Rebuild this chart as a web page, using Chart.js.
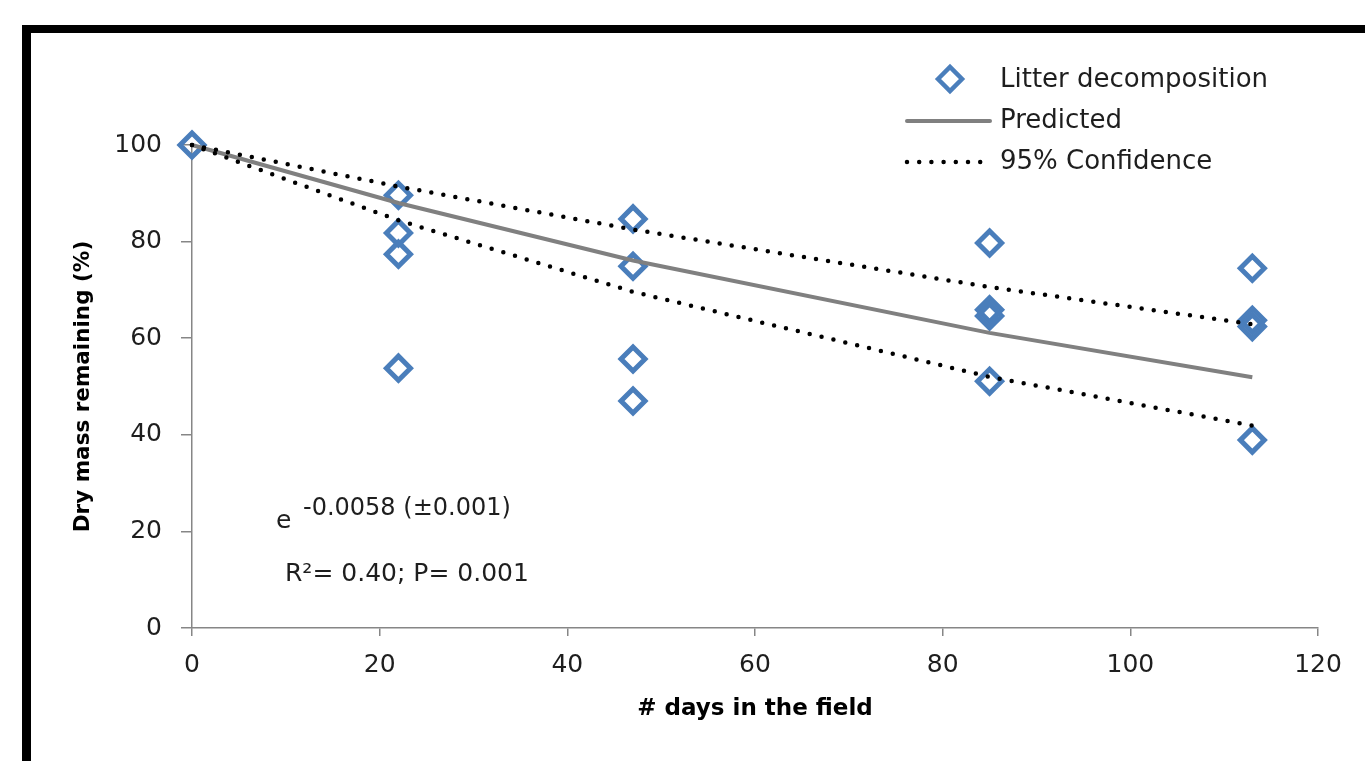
<!DOCTYPE html>
<html>
<head>
<meta charset="utf-8">
<title>Litter decomposition</title>
<script src="https://cdn.jsdelivr.net/npm/chart.js@4.4.1/dist/chart.umd.min.js"></script>
<style>
  html, body { margin: 0; padding: 0; background: #fff; overflow: hidden; }
  #wrap { position: relative; width: 1365px; height: 761px; }
</style>
</head>
<body>
<div id="wrap"><canvas id="chart" width="1365" height="761"></canvas></div>
<script>
// measured litter bags
const days = [0, 22, 22, 22, 22, 47, 47, 47, 47, 85, 85, 85, 85, 113, 113, 113, 113];
const massLeft = [100, 89.6, 81.8, 77.4, 53.8, 84.7, 74.9, 55.7, 47.0, 79.7, 65.9, 64.6, 51.1, 74.5, 63.7, 62.4, 38.9];

// fitted curve and confidence band
const curveDays = [0, 22, 47, 85, 113];
const predicted = [100, 88.0, 76.1, 61.1, 51.9];
const upper95 = [100, 91.4, 82.5, 70.6, 62.9];
const lower95 = [100, 84.4, 69.6, 52.0, 41.9];

const xTicks = [0, 20, 40, 60, 80, 100, 120];
const yTicks = [0, 20, 40, 60, 80, 100];

const FONT = `"DejaVu Sans", sans-serif`;
const BLUE = `#4a7ebb`;
const GREY = `#808080`;
const AXIS = `#868686`;
const INK = `#1e1e1e`;

const toPoints = (xs, ys) => xs.map((x, i) => ({x, y: ys[i]}));

const frame = {
  id: `frame`,
  beforeDraw(chart) {
    const ctx = chart.ctx;
    ctx.save();
    ctx.fillStyle = `#000`;
    ctx.fillRect(22, 25, chart.width, 8);
    ctx.fillRect(22, 25, 9, chart.height);
    ctx.restore();
  }
};

const notes = {
  id: `notes`,
  afterDraw(chart) {
    const ctx = chart.ctx;
    const ds = chart.data.datasets;
    ctx.save();
    ctx.fillStyle = INK;
    ctx.textBaseline = `alphabetic`;
    ctx.font = `25px ${FONT}`;
    ctx.fillText(`e`, 276, 528);
    ctx.font = `24px ${FONT}`;
    ctx.fillText(`-0.0058 (±0.001)`, 303, 515);
    ctx.font = `25px ${FONT}`;
    ctx.fillText(`R²= 0.40; P= 0.001`, 285, 581);

    // legend
    ctx.font = `26px ${FONT}`;
    ctx.textBaseline = `middle`;
    ctx.fillText(ds[0].label, 1000, 80);
    ctx.fillText(ds[1].label, 1000, 121);
    ctx.fillText(ds[2].label, 1000, 162);

    ctx.strokeStyle = BLUE;
    ctx.lineWidth = 4.5;
    ctx.beginPath();
    ctx.moveTo(938, 79);
    ctx.lineTo(950, 67);
    ctx.lineTo(962, 79);
    ctx.lineTo(950, 91);
    ctx.closePath();
    ctx.stroke();

    ctx.strokeStyle = GREY;
    ctx.lineWidth = 4;
    ctx.lineCap = `round`;
    ctx.beginPath();
    ctx.moveTo(907, 121);
    ctx.lineTo(990, 121);
    ctx.stroke();

    ctx.strokeStyle = `#000`;
    ctx.lineWidth = 4.5;
    ctx.setLineDash([0, 12.2]);
    ctx.beginPath();
    ctx.moveTo(907, 162);
    ctx.lineTo(990, 162);
    ctx.stroke();
    ctx.restore();
  }
};

new Chart(document.getElementById(`chart`), {
  type: `scatter`,
  data: {
    datasets: [
      {
        label: `Litter decomposition`,
        data: toPoints(days, massLeft),
        pointStyle: `rectRot`,
        pointRadius: 12,
        pointBorderWidth: 5,
        borderColor: BLUE,
        backgroundColor: `rgba(0,0,0,0)`,
        clip: false,
        order: 3
      },
      {
        label: `Predicted`,
        data: toPoints(curveDays, predicted),
        showLine: true,
        borderColor: GREY,
        borderWidth: 4,
        pointRadius: 0,
        clip: false,
        order: 2
      },
      {
        label: `95% Confidence`,
        data: toPoints(curveDays, upper95),
        showLine: true,
        borderColor: `#000`,
        borderWidth: 4.5,
        borderDash: [0, 12.2],
        borderCapStyle: `round`,
        pointRadius: 0,
        clip: false,
        order: 1
      },
      {
        label: `95% Confidence (lower)`,
        data: toPoints(curveDays, lower95),
        showLine: true,
        borderColor: `#000`,
        borderWidth: 4.5,
        borderDash: [0, 12.2],
        borderCapStyle: `round`,
        pointRadius: 0,
        clip: false,
        order: 1
      }
    ]
  },
  options: {
    responsive: false,
    animation: false,
    layout: {padding: {left: 60, top: 145, right: 47, bottom: 20}},
    plugins: {legend: {display: false}, tooltip: {enabled: false}},
    scales: {
      x: {
        type: `linear`,
        min: 0,
        max: 120,
        afterFit: (scale) => { scale.height = 113; },
        afterBuildTicks: (scale) => { scale.ticks = xTicks.map((v) => ({value: v})); },
        grid: {drawOnChartArea: false, tickLength: 8, color: AXIS, lineWidth: 1.5},
        border: {color: AXIS, width: 1.5},
        ticks: {padding: 14, color: INK, font: {family: FONT, size: 25}},
        title: {
          display: true,
          text: `# days in the field`,
          color: `#000`,
          padding: {top: 0, bottom: 18},
          font: {family: FONT, size: 23, weight: `bold`}
        }
      },
      y: {
        type: `linear`,
        min: 0,
        max: 100,
        afterFit: (scale) => { scale.width = 132; },
        afterBuildTicks: (scale) => { scale.ticks = yTicks.map((v) => ({value: v})); },
        grid: {drawOnChartArea: false, tickLength: 11, color: AXIS, lineWidth: 1.5},
        border: {color: AXIS, width: 1.5},
        ticks: {padding: 19, color: INK, font: {family: FONT, size: 25}},
        title: {
          display: true,
          text: `Dry mass remaining (%)`,
          color: `#000`,
          padding: {top: 11, bottom: 0},
          font: {family: FONT, size: 21.5, weight: `bold`}
        }
      }
    }
  },
  plugins: [frame, notes]
});
</script>
</body>
</html>
